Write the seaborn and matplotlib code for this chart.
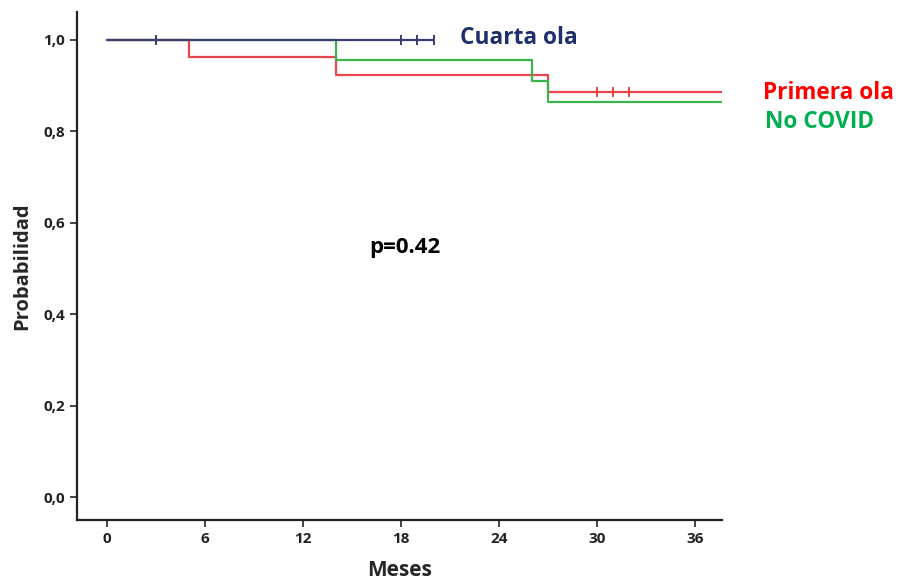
import numpy as np
import pandas as pd
import matplotlib
matplotlib.use("Agg")
import matplotlib.pyplot as plt
import seaborn as sns

# Kaplan-Meier steps (steps-post)
cuarta_t = [0, 20]
cuarta_s = [1.0, 1.0]
cuarta_cens = [3, 18, 19, 20]

primera_t = [0, 5, 14, 27, 37.8]
primera_s = [1.0, 0.962, 0.923, 0.885, 0.885]
primera_cens = [30, 31, 32]

nocovid_t = [0, 14, 26, 27, 37.8]
nocovid_s = [1.0, 0.955, 0.909, 0.864, 0.864]
nocovid_cens = []

groups = ["Primera ola", "No COVID", "Cuarta ola"]
line_colors = {"Cuarta ola": "#3a3f6e", "Primera ola": "#e8474f", "No COVID": "#3cb44b"}
label_colors = {"Cuarta ola": "#1f2f6b", "Primera ola": "#ff0000", "No COVID": "#00b050"}
xticks = [0, 6, 12, 18, 24, 30, 36]
yticks = [0.0, 0.2, 0.4, 0.6, 0.8, 1.0]

curves = {
    "Cuarta ola": (cuarta_t, cuarta_s, cuarta_cens),
    "Primera ola": (primera_t, primera_s, primera_cens),
    "No COVID": (nocovid_t, nocovid_s, nocovid_cens),
}

sns.set_style("white")
plt.rcParams["font.family"] = ["Open Sans", "DejaVu Sans"]

fig = plt.figure(figsize=(8.98, 5.83), dpi=100)
ax = fig.add_axes([0.0857, 0.108, 0.718, 0.871])

for g in groups:
    t, s, cens = curves[g]
    df = pd.DataFrame({"t": t, "s": s})
    sns.lineplot(data=df, x="t", y="s", drawstyle="steps-post", color=line_colors[g],
                 linewidth=1.6, ax=ax, estimator=None, sort=False)
    if cens:
        cs = [s[np.searchsorted(t, c, side="right") - 1] for c in cens]
        ax.plot(cens, cs, linestyle="none", marker="|", markersize=7,
                markeredgewidth=1.4, color=line_colors[g])

ax.set_xlim(-1.84, 37.65)
ax.set_ylim(-0.05, 1.06)
ax.set_xticks(xticks)
ax.set_xticklabels([str(x) for x in xticks])
ax.set_yticks(yticks)
ax.set_yticklabels([f"{y:.1f}".replace(".", ",") for y in yticks])
ax.tick_params(axis="both", direction="out", length=5, width=1.2, labelsize=11,
               colors="#222222", bottom=True, left=True)
for lab in ax.get_xticklabels() + ax.get_yticklabels():
    lab.set_fontweight("bold")

for side in ["top", "right"]:
    ax.spines[side].set_visible(False)
for side in ["left", "bottom"]:
    ax.spines[side].set_linewidth(1.6)
    ax.spines[side].set_color("#222222")

ax.set_xlabel("Meses", fontsize=15, fontweight="bold", labelpad=10)
ax.set_ylabel("Probabilidad", fontsize=14.5, fontweight="bold", labelpad=8)

fig.text(405 / 898, 1 - 248 / 583, "p=0.42", fontsize=16, fontweight="bold",
         ha="center", va="center", color="black")
fig.text(460 / 898, 1 - 38 / 583, "Cuarta ola", fontsize=16.3, fontweight="bold",
         color=label_colors["Cuarta ola"], ha="left", va="center")
fig.text(763 / 898, 1 - 93 / 583, "Primera ola", fontsize=16.3, fontweight="bold",
         color=label_colors["Primera ola"], ha="left", va="center")
fig.text(765 / 898, 1 - 122 / 583, "No COVID", fontsize=16.3, fontweight="bold",
         color=label_colors["No COVID"], ha="left", va="center")

fig.savefig("out.png", dpi=100)
